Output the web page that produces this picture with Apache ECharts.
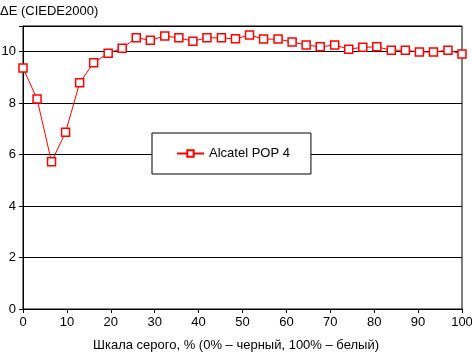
<!DOCTYPE html>
<html><head><meta charset="utf-8">
<script src="https://cdn.jsdelivr.net/npm/echarts@6/dist/echarts.min.js"></script>
<style>html,body{margin:0;padding:0;background:#fff}#c{width:472px;height:352px}</style>
</head><body><div id="c"></div>
<script>
const seriesName = 'Alcatel POP 4';
const grayLevels = [0, 3.2, 6.5, 9.7, 12.9, 16.1, 19.4, 22.6, 25.8, 29, 32.3, 35.5, 38.7, 41.9, 45.2, 48.4, 51.6, 54.8, 58.1, 61.3, 64.5, 67.7, 71, 74.2, 77.4, 80.6, 83.9, 87.1, 90.3, 93.5, 96.8, 100];
const deltaE = [9.37, 8.16, 5.72, 6.87, 8.79, 9.57, 9.94, 10.14, 10.54, 10.45, 10.61, 10.54, 10.41, 10.54, 10.54, 10.5, 10.65, 10.49, 10.49, 10.38, 10.26, 10.19, 10.26, 10.1, 10.17, 10.19, 10.06, 10.06, 9.99, 9.99, 10.06, 9.91];
const xTitle = 'Шкала серого, % (0% – черный, 100% – белый)';
const yTitle = 'ΔE (CIEDE2000)';

const font = 'Liberation Sans, Arial, sans-serif';
const chart = echarts.init(document.getElementById('c'), null, {renderer: 'canvas'});
chart.setOption({
  animation: false,
  backgroundColor: '#fff',
  grid: {left: 23, right: 10, top: 26, bottom: 43, outerBoundsMode: 'none', containLabel: false,
    show: true, borderColor: '#000', borderWidth: 1, backgroundColor: 'transparent'},
  title: [
    {text: yTitle, left: -5, top: 0, textStyle: {fontFamily: font, fontSize: 13, fontWeight: 'normal', color: '#000'}},
    {text: xTitle, left: 'center', top: 334, textStyle: {fontFamily: font, fontSize: 13, fontWeight: 'normal', color: '#000'}}
  ],
  legend: {
    data: [seriesName], left: 152, top: 133,
    padding: [14, 21, 14, 24],
    borderColor: '#000', borderWidth: 1, backgroundColor: '#fff',
    itemWidth: 27, itemHeight: 8, itemGap: 5,
    textStyle: {fontFamily: font, fontSize: 13, color: '#000'}
  },
  xAxis: {
    type: 'value', min: 0, max: 100, interval: 10,
    axisLine: {show: true, lineStyle: {color: '#000', width: 1}},
    axisTick: {show: true, inside: false, length: 4, lineStyle: {color: '#000'}},
    axisLabel: {fontFamily: font, fontSize: 13, color: '#000', margin: 7},
    splitLine: {show: false}
  },
  yAxis: {
    type: 'value', min: 0, max: 11, interval: 2,
    axisLine: {show: true, lineStyle: {color: '#000', width: 1}},
    axisTick: {show: true, inside: false, length: 4, lineStyle: {color: '#000'}},
    axisLabel: {fontFamily: font, fontSize: 13, color: '#000', margin: 7,
      formatter: v => (v % 2 === 0 ? String(v) : '')},
    splitLine: {show: true, lineStyle: {color: '#000', width: 1}}
  },
  series: [{
    name: seriesName, type: 'line',
    data: grayLevels.map((x, i) => [x, deltaE[i]]),
    symbol: 'rect', symbolSize: 8, showAllSymbol: true,
    lineStyle: {color: '#ff0000', width: 1},
    itemStyle: {color: '#fff', borderColor: '#ff0000', borderWidth: 1.5},
    emphasis: {disabled: true}
  }]
});
</script></body></html>
